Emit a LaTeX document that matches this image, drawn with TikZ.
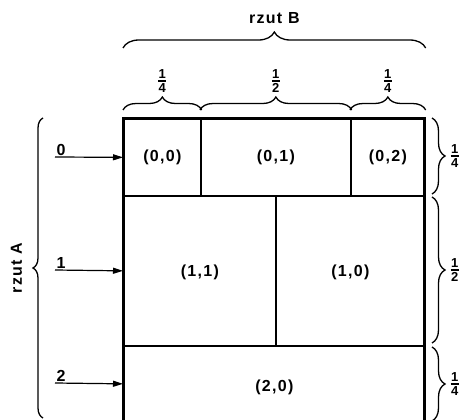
\documentclass[tikz,border=0pt]{standalone}
\usepackage{fontspec}
\setmainfont{Liberation Sans}[LetterSpace=8]
\usetikzlibrary{decorations.pathreplacing,arrows.meta}
\newcommand\myfr[2]{$\vcenter{\offinterlineskip\halign{\hfil##\hfil\cr #1\cr\noalign{\kern1.6pt}\rule{8pt}{1.4pt}\cr\noalign{\kern1.6pt}#2\cr}}$}
\begin{document}
\begin{tikzpicture}[x=1pt,y=-1pt,
  cell/.style={draw,line width=1.7pt,minimum width=#1,inner sep=0pt,anchor=north west},
  lbl/.style={font=\bfseries\fontsize{16}{16}\selectfont},
  frac/.style={font=\bfseries\fontsize{13}{13}\selectfont,inner sep=0pt},
  brc/.style={decorate,decoration={brace,amplitude=#1},line width=1.3pt},
  brc/.default=13pt,
  arr/.style={-{Triangle[length=10pt,width=6pt]},line width=1.2pt}]
\useasboundingbox (0,0) rectangle (466,420);
% cells
\node[cell=77pt,minimum height=77pt] (c00) at (123,118) {};
\node[cell=150pt,minimum height=77pt] (c01) at (200,118) {};
\node[cell=74pt,minimum height=77pt] (c02) at (350,118) {};
\node[cell=152pt,minimum height=150pt] (c11) at (123,195) {};
\node[cell=149pt,minimum height=150pt] (c10) at (275,195) {};
\node[cell=301pt,minimum height=76pt] (c20) at (123,345) {};
\draw[line width=3pt] (123,420) -- (123,118) -- (424,118) -- (424,420);
% cell labels
\node[lbl] (t00) at (c00) {(0,0)};
\node[lbl] (t01) at (c01) {(0,1)};
\node[lbl] (t02) at (c02) {(0,2)};
\node[lbl] (t11) at ([yshift=-2pt]c11.center) {(1,1)};
\node[lbl] (t10) at ([yshift=-2pt]c10.center) {(1,0)};
\node[lbl] (t20) at ([yshift=-4pt]c20.center) {(2,0)};
% top braces
\draw[brc=16pt] (c00.north west |- 0,48) -- (c02.north east |- 0,48) node[midway,above=20pt,lbl] (rb) {rzut B};
\draw[brc] (c00.north west |- 0,110) -- (c00.north east |- 0,110) node[midway,above=17pt,frac] (f1) {\myfr{1}{4}};
\draw[brc] (c01.north west |- 0,110) -- (c01.north east |- 0,110) node[midway,above=17pt,frac] (f2) {\myfr{1}{2}};
\draw[brc] (c02.north west |- 0,110) -- (c02.north east |- 0,110) node[midway,above=17pt,frac] (f3) {\myfr{1}{4}};
% left brace
\draw[brc=10pt] (43,418) -- (43,118) node[midway,left=17pt,lbl,rotate=90,anchor=south] (ra) {rzut A};
% right braces
\draw[brc] (432,118) -- (432,194) node[midway,right=18pt,frac] (g1) {\myfr{1}{4}};
\draw[brc] (432,197) -- (432,343) node[midway,right=18pt,frac] (g2) {\myfr{1}{2}};
\draw[brc] (432,347) -- (432,421) node[midway,right=18pt,frac] (g3) {\myfr{1}{4}};
% arrows
\coordinate (a0) at (55,157);
\coordinate (a1) at (55,270);
\coordinate (a2) at (55,383);
\draw[arr] (a0) -- (c00.west);
\draw[arr] (a1) -- (c11.west);
\draw[arr] (a2) -- (c20.west);
\node[lbl,anchor=south west,inner sep=1.5pt] (n0) at (a0) {0};
\node[lbl,anchor=south west,inner sep=1.5pt] (n1) at (a1) {1};
\node[lbl,anchor=south west,inner sep=1.5pt] (n2) at (a2) {2};
\end{tikzpicture}
\end{document}
